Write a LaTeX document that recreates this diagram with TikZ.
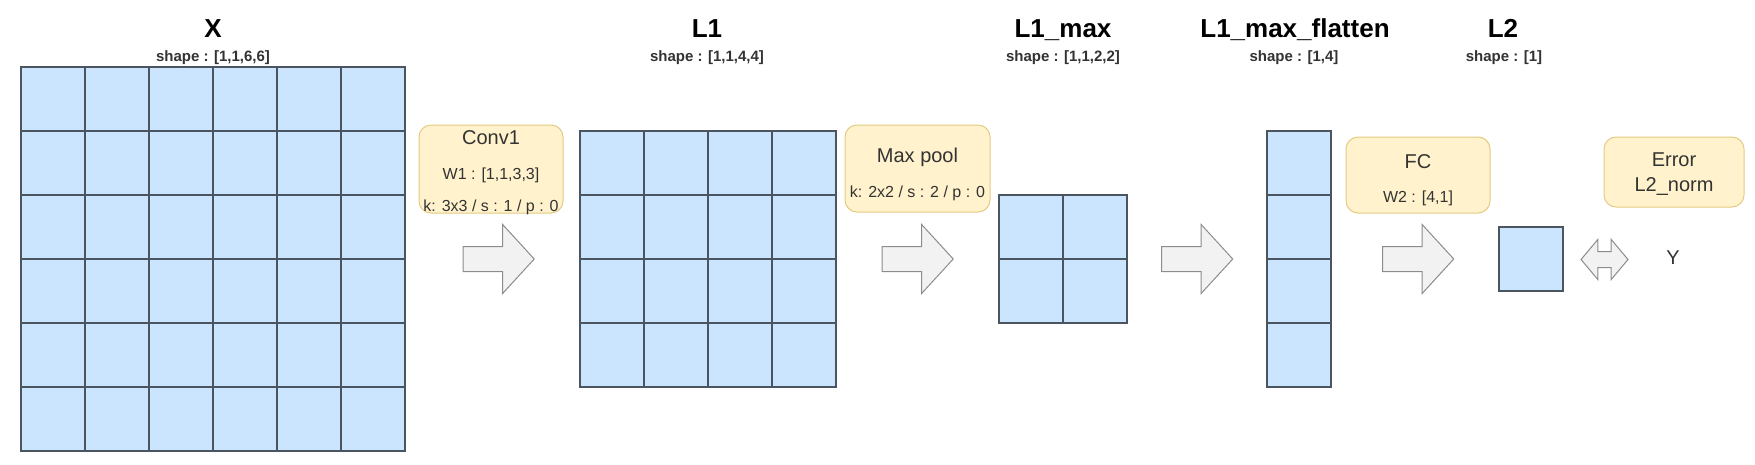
\documentclass[tikz,border=0pt]{standalone}
\usepackage{fontspec}
\setmainfont{Liberation Sans}
\usetikzlibrary{shapes.arrows}
\definecolor{NetCellFill}{HTML}{CCE5FF}
\definecolor{NetCellLine}{HTML}{4A5560}
\definecolor{NetOpFill}{HTML}{FFF2CC}
\definecolor{NetOpLine}{HTML}{E3CB82}
\definecolor{NetArrowFill}{HTML}{F2F2F2}
\definecolor{NetArrowLine}{HTML}{8C8C8C}
\definecolor{NetText}{HTML}{333333}

\begin{document}
\begin{tikzpicture}[x=1pt,y=-1pt,
    cellbox/.style={fill=NetCellFill, draw=NetCellLine, line width=1.2pt},
    opbox/.style={draw=NetOpLine, fill=NetOpFill, line width=1pt, rounded corners=12pt, inner sep=0pt},
    optitle/.style={NetText, anchor=base, font=\fontsize{20pt}{24pt}\selectfont},
    opnote/.style={NetText, anchor=base, font=\fontsize{16pt}{19pt}\selectfont},
    layername/.style={black, anchor=base, font=\fontsize{26pt}{30pt}\selectfont\bfseries},
    layershape/.style={NetText, anchor=base, font=\fontsize{15pt}{18pt}\selectfont\bfseries},
    flowarrow/.style={single arrow, draw=NetArrowLine, fill=NetArrowFill, line width=1pt,
      inner xsep=0pt, inner ysep=12pt, minimum width=68pt, single arrow head extend=22pt,
      single arrow tip angle=95, minimum height=71pt},
    comparrow/.style={double arrow, draw=NetArrowLine, fill=NetArrowFill, line width=1pt,
      inner xsep=0pt, inner ysep=7.5pt, minimum width=39pt, double arrow head extend=12pt,
      double arrow tip angle=100, minimum height=47pt}]
  \useasboundingbox (0,0) rectangle (1755,464);

  % layer titles
  \node[layername] (xname) at (213,37) {X};
  \node[layershape] (xshape) at (213,61) {shape : [1,1,6,6]};
  \node[layername] (lonename) at (707,37) {L1};
  \node[layershape] (loneshape) at (707,61) {shape : [1,1,4,4]};
  \node[layername] (maxname) at (1063,37) {L1\_max};
  \node[layershape] (maxshape) at (1063,61) {shape : [1,1,2,2]};
  \node[layername] (flatname) at (1295,37) {L1\_max\_flatten};
  \node[layershape] (flatshape) at (1294,61) {shape : [1,4]};
  \node[layername] (ltwoname) at (1503,37) {L2};
  \node[layershape] (ltwoshape) at (1504,61) {shape : [1]};

  % tensors
  \foreach \i in {0,...,5} {
    \foreach \j in {0,...,5} {
      \draw[cellbox] (21+\i*64,67+\j*64) rectangle ++(64,64);
    }
  }
  \foreach \i in {0,...,3} {
    \foreach \j in {0,...,3} {
      \draw[cellbox] (580+\i*64,131+\j*64) rectangle ++(64,64);
    }
  }
  \foreach \i in {0,1} {
    \foreach \j in {0,1} {
      \draw[cellbox] (999+\i*64,195+\j*64) rectangle ++(64,64);
    }
  }
  \foreach \j in {0,...,3} {
    \draw[cellbox] (1267,131+\j*64) rectangle ++(64,64);
  }
  \draw[cellbox] (1499,227) rectangle ++(64,64);

  % operations
  \node[opbox, minimum width=144pt, minimum height=88pt] (conv) at (491,169) {};
  \node[optitle] (convname) at (491,144) {Conv1};
  \node[opnote] (convweight) at (491,179) {W1 : [1,1,3,3]};
  \node[opnote] (convparam) at (491,211) {k: 3x3 / s : 1 / p : 0};

  \node[opbox, minimum width=145pt, minimum height=87pt] (pool) at (917.5,168.5) {};
  \node[optitle] (poolname) at (917.5,162) {Max pool};
  \node[opnote] (poolparam) at (917.5,197) {k: 2x2 / s : 2 / p : 0};

  \node[opbox, minimum width=144pt, minimum height=76pt] (fc) at (1418,175) {};
  \node[optitle] (fcname) at (1418,168) {FC};
  \node[opnote] (fcweight) at (1418,202) {W2 : [4,1]};

  \node[opbox, minimum width=140pt, minimum height=70pt] (loss) at (1674,172) {};
  \node[optitle] (lossname) at (1674,166) {Error};
  \node[optitle] (lossnorm) at (1674,191) {L2\_norm};

  % flow
  \node[flowarrow] (convstep) at (493,259) {};
  \node[flowarrow] (poolstep) at (912,259) {};
  \node[flowarrow] (flatstep) at (1191.5,259) {};
  \node[flowarrow] (fcstep) at (1412.5,259) {};
  \node[comparrow] (compare) at (1604.5,259.5) {};
  \node[optitle] (target) at (1673,264) {Y};
\end{tikzpicture}
\end{document}
